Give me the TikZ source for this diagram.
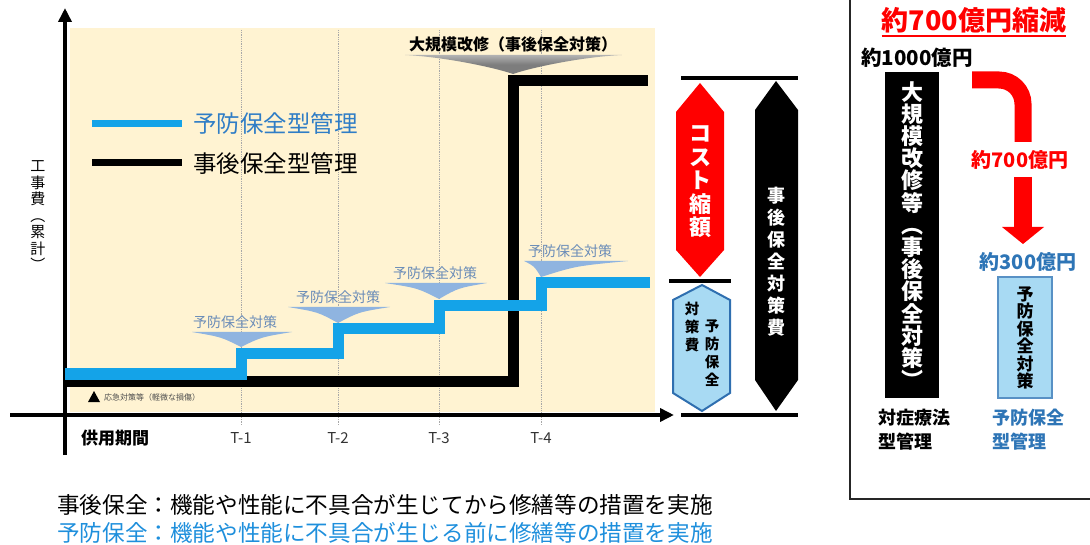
\documentclass[tikz,border=0pt]{standalone}
\usepackage{fontspec}
\setmainfont{Noto Sans CJK JP}
\usetikzlibrary{arrows.meta}
\definecolor{beige}{HTML}{FFF3D2}
\definecolor{stepblue}{HTML}{14A3E8}
\definecolor{legblue}{HTML}{2F7DC6}
\definecolor{darkblue}{HTML}{2E75B6}
\definecolor{botblue}{HTML}{1E8FDC}
\definecolor{calloutblue}{HTML}{8FB4E0}
\definecolor{callouttext}{HTML}{6A8CB8}
\definecolor{lightfill}{HTML}{A8DAF3}
\definecolor{hexborder}{HTML}{2F6FB0}
\definecolor{redc}{HTML}{FF0000}
\definecolor{dotgray}{HTML}{A8A8A8}
\definecolor{calloutgray}{HTML}{7D7D7D}
\newcommand\fsz[2]{\fontsize{#1}{#2}\selectfont}
\tikzset{
  axisline/.style={line width=4, -{Triangle[length=14,width=13]}},
  dotline/.style={dotgray, densely dotted, line width=0.8},
  bluestep/.style={stepblue, line width=11},
  blackstep/.style={black, line width=11},
  tlabel/.style={font=\fsz{15}{16}, text=black!80},
  bcalltext/.style={font=\fsz{14}{15}, text=callouttext},
  vtext/.style={align=center, inner sep=0},
  bar/.style={line width=4.5},
}
\begin{document}
\begin{tikzpicture}[x=1pt,y=-1pt]
\useasboundingbox (0,0) rectangle (1090,545);
% background
\fill[beige] (70,28) rectangle (655,412);
% dotted guide lines
\foreach \xx/\nm in {241/t1,338/t2,439/t3,541/t4}{
  \coordinate (\nm top) at (\xx,30);
  \coordinate (\nm bot) at (\xx,425);
  \draw[dotline] (\nm top) -- (\nm bot);
}
% axes
\coordinate (ybot) at (65,455);
\coordinate (ytop) at (65,8);
\coordinate (xleft) at (10,415);
\coordinate (xright) at (674,415);
\draw[axisline] (ybot) -- (ytop);
\draw[axisline] (xleft) -- (xright);
% axis labels
\node[vtext, font=\fsz{15}{16.5}] (ylab) at (38,216) {工\\事\\費\\︵\\累\\計\\︶};
\node[font=\bfseries\fsz{17}{18}] (kyoyo) at (115,438) {供用期間};
\node[tlabel] (T1) at (241,438) {T-1};
\node[tlabel] (T2) at (338,438) {T-2};
\node[tlabel] (T3) at (439,438) {T-3};
\node[tlabel] (T4) at (541,438) {T-4};
% gray callout
\shade[top color=black!30, bottom color=calloutgray, middle color=calloutgray]
  (405,55) -- (622,55) .. controls (580,57) and (530,68) .. (513,74)
  .. controls (496,68) and (446,57) .. (405,55) -- cycle;
\node[font=\bfseries\fsz{16}{17}] (bigrep) at (513,44) {大規模改修（事後保全対策）};
% blue callouts
\foreach \cx/\ax/\ty/\ay/\lx/\rx/\nm in {235/241/332/347/192/292/c1, 338/338/307/323/288/390/c2, 435/439/283/299/385/487/c3, 570/541/261/277/524/628/c4}{
  \fill[calloutblue] (\lx,\ty) -- (\rx,\ty) .. controls ({\ax+(\rx-\ax)*0.4},{\ty+5}) .. (\ax,\ay)
     .. controls ({\ax-(\ax-\lx)*0.4},{\ty+5}) .. (\lx,\ty) -- cycle;
  \node[bcalltext] (\nm) at (\cx,{\ty-10}) {予防保全対策};
}
% black step line
\coordinate (b0) at (65,381);
\coordinate (b1) at (513,381);
\coordinate (b2) at (513,81);
\coordinate (b3) at (648,81);
\draw[blackstep] (b0) -- (b1) -- (b2) -- (b3);
% blue step line
\draw[bluestep] (65,374) -- (241,374) -- (241,354) -- (338,354) -- (338,329)
  -- (439,329) -- (439,306) -- (541,306) -- (541,283) -- (650,283);
% legend
\coordinate (lg1a) at (92,124); \coordinate (lg1b) at (182,124);
\coordinate (lg2a) at (92,163); \coordinate (lg2b) at (182,163);
\draw[stepblue, line width=7] (lg1a) -- (lg1b);
\draw[black, line width=7] (lg2a) -- (lg2b);
\node[anchor=west, font=\fsz{23.5}{24}, text=legblue, inner sep=0] (leg1) at (193,124) {予防保全型管理};
\node[anchor=west, font=\fsz{23.5}{24}, text=black, inner sep=0] (leg2) at (193,164) {事後保全型管理};
% small note
\fill[black] (88,402) -- (100,402) -- (94,391) -- cycle;
\node[anchor=west, font=\fsz{8}{9}, text=black!70, inner sep=0] (note) at (104,397) {応急対策等（軽微な損傷）};
% hexagons
\fill[redc] (700,83) -- (724,112) -- (724,250) -- (700,277) -- (676,250) -- (676,112) -- cycle;
\node[vtext, text=white, font=\bfseries\fsz{22}{23.5}] (cost) at (700,182) {コ\\ス\\ト\\縮\\額};
\filldraw[fill=lightfill, draw=hexborder, line width=2] (702,285) -- (730,300) -- (730,393) -- (702,411) -- (673,393) -- (673,300) -- cycle;
\node[vtext, font=\bfseries\fsz{14.5}{18}] (yobo1) at (712,353) {予\\防\\保\\全};
\node[vtext, font=\bfseries\fsz{14.5}{18}] (yobo2) at (692,327) {対\\策\\費};
\fill[black] (776,81) -- (798,110) -- (798,380) -- (776,411) -- (755,380) -- (755,110) -- cycle;
\node[vtext, text=white, font=\bfseries\fsz{18}{22}] (jigo) at (776,262) {事\\後\\保\\全\\対\\策\\費};
% bars
\coordinate (bt1) at (681,78); \coordinate (bt2) at (798,78);
\coordinate (bm1) at (669,281); \coordinate (bm2) at (731,281);
\coordinate (bb1) at (681,415); \coordinate (bb2) at (798,415);
\draw[bar] (bt1) -- (bt2);
\draw[bar] (bm1) -- (bm2);
\draw[bar] (bb1) -- (bb2);
% bottom text
\node[anchor=west, font=\fsz{22.6}{23}, inner sep=0] (def1) at (57,505) {事後保全：機能や性能に不具合が生じてから修繕等の措置を実施};
\node[anchor=west, font=\fsz{22.6}{23}, text=botblue, inner sep=0] (def2) at (57,533) {予防保全：機能や性能に不具合が生じる前に修繕等の措置を実施};
% right box
\draw[black!85, line width=2] (850,-10) rectangle (1100,499);
\node[font=\bfseries\fsz{27}{28}, text=redc, inner sep=0] (red700) at (974,20) {約700億円縮減};
\draw[redc, line width=1.5] ([yshift=-3]red700.south west) -- ([yshift=-3]red700.south east);
\node[anchor=west, font=\bfseries\fsz{20.5}{21}, inner sep=0] (k1000) at (861,58) {約1000億円};
\fill[black] (885,72) rectangle (939,398);
\node[vtext, text=white, font=\bfseries\fsz{22}{22.2}] (bigtext) at (912,235) {大\\規\\模\\改\\修\\等\\︵\\事\\後\\保\\全\\対\\策\\︶};
% red arrow
\coordinate (ra0) at (972,80);
\coordinate (ra1) at (1023,80);
\coordinate (ra2) at (1023,142);
\draw[redc, line width=17, rounded corners=24] (ra0) -- (ra1) -- (ra2);
\node[font=\bfseries\fsz{20}{21}, text=redc, inner sep=0] (r700) at (1020,160) {約700億円};
\coordinate (rb0) at (1023,177);
\coordinate (rb1) at (1023,228);
\draw[redc, line width=18] (rb0) -- (rb1);
\fill[redc] (1002,227) -- (1044,227) -- (1023,244) -- cycle;
\node[font=\bfseries\fsz{20}{21}, text=darkblue, inner sep=0] (k300) at (1028,262) {約300億円};
\filldraw[fill=lightfill, draw=darkblue!80, line width=1.5] (998,277) rectangle (1052,398);
\node[vtext, font=\bfseries\fsz{17}{17.5}] (yoboboxt) at (1025,338) {予\\防\\保\\全\\対\\策};
\node[anchor=north west, align=left, font=\bfseries\fsz{18}{24}, inner sep=0] (taisho) at (878,409) {対症療法\\型管理};
\node[anchor=north west, align=left, font=\bfseries\fsz{18}{24}, text=darkblue, inner sep=0] (yobokan) at (992,409) {予防保全\\型管理};
\end{tikzpicture}
\end{document}
